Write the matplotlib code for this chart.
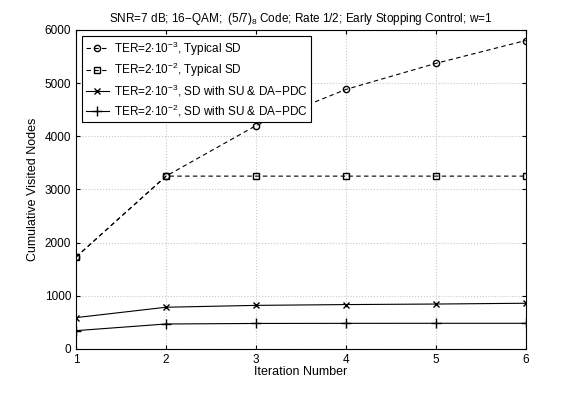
import matplotlib
matplotlib.use("Agg")
import matplotlib.pyplot as plt

plt.rcParams['font.family'] = ['Liberation Sans', 'DejaVu Sans']
plt.rcParams['mathtext.fontset'] = 'custom'
plt.rcParams['mathtext.rm'] = 'Liberation Sans'
plt.rcParams['mathtext.it'] = 'Liberation Sans'

iterations = [1, 2, 3, 4, 5, 6]
typical_ter3 = [1730, 3250, 4200, 4880, 5370, 5800]
typical_ter2 = [1730, 3250, 3250, 3250, 3250, 3250]
su_ter3 = [590, 785, 820, 835, 845, 860]
su_ter2 = [345, 470, 480, 482, 483, 483]

labels = [r"TER=2$\cdot$10$^{-3}$, Typical SD",
          r"TER=2$\cdot$10$^{-2}$, Typical SD",
          r"TER=2$\cdot$10$^{-3}$, SD with SU & DA$-$PDC",
          r"TER=2$\cdot$10$^{-2}$, SD with SU & DA$-$PDC"]

fig = plt.figure(figsize=(5.81, 3.93), dpi=100)
ax = fig.add_axes([0.131, 0.112, 0.774, 0.812])

ax.plot(iterations, typical_ter3, 'k--', marker='o', mfc='none', ms=4.5, lw=0.8, dashes=(4, 3), label=labels[0])
ax.plot(iterations, typical_ter2, 'k--', marker='s', mfc='none', ms=4.5, lw=0.8, dashes=(4, 3), label=labels[1])
ax.plot(iterations, su_ter3, 'k-', marker='x', ms=4.5, lw=0.8, label=labels[2])
ax.plot(iterations, su_ter2, 'k-', marker='+', ms=6.5, lw=0.8, label=labels[3])

ax.set_xlim(1, 6)
ax.set_ylim(0, 6000)
ax.set_xticks(iterations)
ax.set_yticks(range(0, 6001, 1000))
ax.tick_params(direction='in', labelsize=8.5, length=3, top=True, right=True)
ax.grid(True, linestyle=':', color='#c8c8c8', lw=0.8)
ax.set_xlabel("Iteration Number", fontsize=9, labelpad=0)
ax.set_ylabel("Cumulative Visited Nodes", fontsize=9)
ax.set_title(r"SNR=7 dB; 16$-$QAM;  (5/7)$_8$ Code; Rate 1/2; Early Stopping Control; w=1", fontsize=8.5)

leg = ax.legend(loc='upper left', fontsize=8.5, fancybox=False, framealpha=1,
                edgecolor='k', handlelength=2.0, handletextpad=0.4, borderpad=0.3, labelspacing=0.3)
leg.get_frame().set_linewidth(0.8)

plt.savefig("out.png", dpi=100)
plt.close()
